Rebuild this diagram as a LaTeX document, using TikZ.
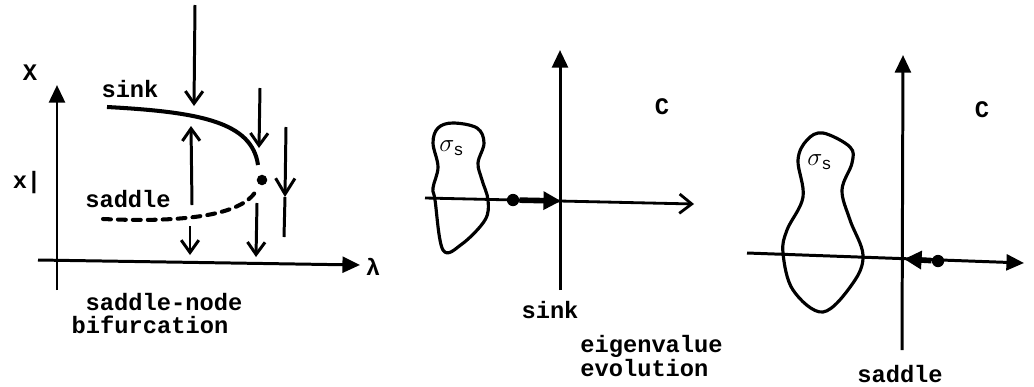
\documentclass[tikz,border=0pt]{standalone}
\usepackage{fontspec}
\setmonofont{Liberation Mono}
\usetikzlibrary{arrows.meta, positioning}
\tikzset{
  axis/.style={line width=1.7pt, -{Triangle[length=10pt,width=9pt]}},
  openaxis/.style={line width=1.6pt, -{Straight Barb[length=7pt,width=11pt]}},
  flow/.style={line width=1.7pt, -{Straight Barb[length=7pt,width=10pt]}},
  evarrow/.style={line width=3.2pt, -{Triangle[length=10pt,width=10pt]}},
  branch/.style={line width=2.3pt},
  blob/.style={line width=1.8pt},
  lbl/.style={font=\fontsize{13.5}{12.5}\selectfont\ttfamily\bfseries, inner sep=0pt},
  siglbl/.style={font=\fontsize{14}{14}\selectfont, inner sep=0pt},
  dotmark/.style={circle, fill, inner sep=0pt, minimum size=6pt}
}
\begin{document}
\begin{tikzpicture}[x=0.02cm, y=-0.02cm]
  \useasboundingbox (0,0) rectangle (1034,386);

  % saddle-node bifurcation
  \coordinate (xa0) at (57,290);
  \coordinate (xa1) at (57,85);
  \coordinate (la0) at (38,260);
  \coordinate (la1) at (360,265);
  \draw[axis] (xa0) -- (xa1);
  \draw[axis] (la0) -- (la1);
  \node[lbl] (xlab) at (30,73) {X};
  \node[lbl] (xtick) at (27,183) {x|};
  \node[lbl] (lam) at (373,267) {λ};
  \node[lbl] (sinklab) at (130,89) {sink};
  \node[lbl] (saddlelab) at (128,199) {saddle};
  \node[lbl] (bif1) at (164,302) {saddle-node};
  \node[lbl] (bif2) at (150,325) {bifurcation};

  \node[dotmark] (fold) at (262,180) {};
  \draw[branch] (107,107) .. controls (200,112) and (252,122) .. (258,165);
  \draw[branch, line cap=round, dash pattern=on 4.5pt off 4pt]
    (103,219) .. controls (190,223) and (245,214) .. (257,189);

  \coordinate (f1a) at (195,5);    \coordinate (f1b) at (194,106);
  \coordinate (f2a) at (192,205);  \coordinate (f2b) at (191,126);
  \coordinate (f3a) at (190,226);  \coordinate (f3b) at (190,255);
  \coordinate (f4a) at (260,88);   \coordinate (f4b) at (259,148);
  \coordinate (f5a) at (257,203);  \coordinate (f5b) at (256,257);
  \coordinate (f6a) at (286,127);  \coordinate (f6m) at (285,197);
  \coordinate (f6b) at (284,237);
  \draw[flow] (f1a) -- (f1b);
  \draw[flow] (f2a) -- (f2b);
  \draw[flow] (f3a) -- (f3b);
  \draw[flow] (f4a) -- (f4b);
  \draw[flow] (f5a) -- (f5b);
  \draw[flow, -{Straight Barb[length=9pt,width=11pt]}] (f6a) -- (f6m);
  \draw[line width=1.7pt] (f6m) -- (f6b);

  % eigenvalues, sink
  \coordinate (ya0) at (560,290);
  \coordinate (ya1) at (560,50);
  \coordinate (re0) at (425,198);
  \coordinate (re1) at (694,204);
  \draw[axis] (ya0) -- (ya1);
  \draw[openaxis] (re0) -- (re1);
  \draw[blob] plot[smooth cycle, tension=0.6] coordinates {
    (453,123) (477,128) (484,143) (478,163) (482,180) (488,200) (485,220)
    (462,244) (443,250) (435,200) (433,188) (438,167) (433,143) (438,128)};
  \node[siglbl] (sig1) at (452,148) {$\sigma_{\mathtt{s}}$};
  \node[dotmark, minimum size=7pt] (ev1) at (513,200) {};
  \coordinate (ev1end) at (561,201);
  \draw[evarrow] (ev1) -- (ev1end);
  \node[lbl] (c1) at (662,107) {C};
  \node[lbl] (sink2) at (550,310) {sink};
  \node[lbl, anchor=west, align=left] (evo) at (580,356) {eigenvalue\\evolution};

  % eigenvalues, saddle
  \coordinate (yb0) at (902,350);
  \coordinate (yb1) at (903,55);
  \coordinate (rb0) at (747,253);
  \coordinate (rb1) at (1024,263);
  \draw[axis] (yb0) -- (yb1);
  \draw[axis] (rb0) -- (rb1);
  \draw[blob] plot[smooth cycle, tension=0.6] coordinates {
    (823,133) (850,147) (852,163) (842,190) (850,220) (863,255) (853,283)
    (823,312) (793,290) (783,253) (787,230) (803,197) (798,160) (807,140)};
  \node[siglbl] (sig2) at (820,162) {$\sigma_{\mathtt{s}}$};
  \node[dotmark, minimum size=7pt] (ev2) at (938,261) {};
  \coordinate (ev2end) at (904,259);
  \draw[evarrow] (ev2) -- (ev2end);
  \node[lbl] (c2) at (982,110) {C};
  \node[lbl] (saddle2) at (900,374) {saddle};
\end{tikzpicture}
\end{document}
